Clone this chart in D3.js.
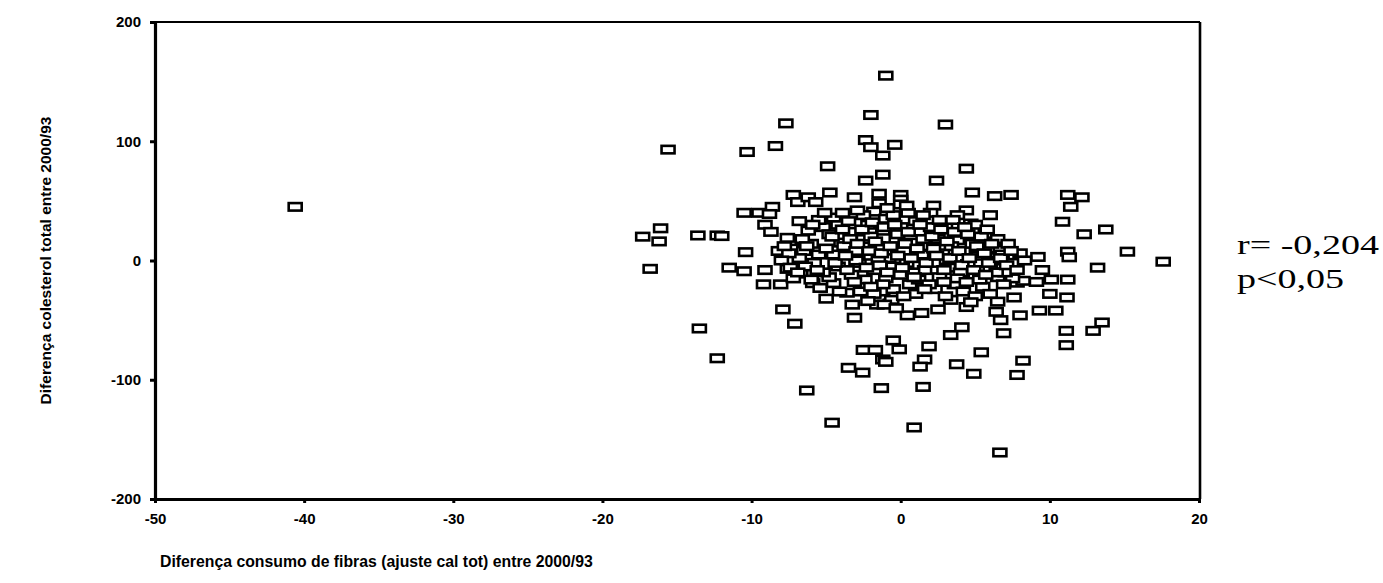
<!DOCTYPE html>
<html>
<head>
<meta charset="utf-8">
<script src="https://cdn.jsdelivr.net/npm/d3@7/dist/d3.min.js"></script>
<style>
  html, body { margin: 0; padding: 0; background: #fff; }
  svg { display: block; }
</style>
</head>
<body>
<svg id="chart" width="1383" height="583"></svg>
<script>
// ---- Data ----
const xTicks = [-50, -40, -30, -20, -10, 0, 10, 20];
const yTicks = [-200, -100, 0, 100, 200];

// Diferença consumo de fibras (x) and Diferença colesterol total (y)
const fibraDiff = [
  -1.0, -2.0, -7.7, -15.6, -10.3, -8.4, -2.35, -2.0, -1.2, -0.4,
  -4.9, -2.35, -1.2, -7.2, -6.9, -6.2, -5.7, -4.75, -3.1, -1.45,
  -1.45, -1.8, 0.0, 0.0, 0.0, -10.5, -9.5, -8.6, -8.8, -9.1,
  -8.7, -7.6, -6.8, -16.1, -17.3, -16.2, -13.6, -12.3, -12.0, -16.8,
  -11.5, -10.5, -10.4, -9.1, -7.6, -6.7, -8.2, -9.2, -8.05, -5.9,
  -5.4, -4.5, -5.0, -3.6, -2.7, -3.25, -3.1, -1.6, -0.7, -1.2,
  -7.9, -7.1, -13.5, -12.3, -6.3, -4.6, -0.5, -2.5, -1.7, -1.2,
  -1.0, -3.5, -2.55, -1.3, 17.6, 13.2, 9.5, 7.2, 10.1, 11.2,
  9.1, 7.8, 8.2, 7.5, 7.6, 10.0, 11.15, 9.3, 10.4, 8.0,
  6.5, 6.4, 6.7, 6.9, 11.1, 11.1, 12.9, 13.5, 4.1, 3.35,
  -0.1, 1.9, 1.6, 1.3, 5.4, 3.75, 4.9, 8.2, 7.8, 1.5,
  0.9, 6.65, 0.45, 1.4, 2.5, 4.4, 3.35, -0.6, -1.1, 3.0,
  4.4, 2.4, 4.8, 6.3, 7.4, 11.2, 12.15, 11.4, 10.85, 12.3,
  13.75, 15.2, 9.2, 11.2, 11.3, 6.0, 4.4, 3.8, 2.2, 4.7,
  4.8, 3.8, 3.8, 6.3, 6.6, -40.6,
  // dense core
  -7.0, -6.5, -6.0, -5.5, -5.8, -6.2, -5.2, -4.8, -4.2, -4.0,
  -4.5, -4.2, -3.8, -3.5, -3.2, -3.0, -2.8, -3.3, -2.5, -2.2,
  -2.0, -1.8, -2.4, -1.5, -1.2, -1.0, -0.8, -0.5, -1.0, -0.3,
  0.0, 0.2, 0.4, 0.0, 0.6, 0.8, 1.0, 1.2, 1.4, 1.6,
  1.8, 2.0, 2.2, 2.5, 2.6, 2.8, 3.0, 3.2, 3.4, 3.6,
  3.8, 4.0, 4.2, 4.5, 4.8, 5.0, 5.2, 5.5, 5.8, 6.0,
  6.2, 6.5, 6.8, 7.0, 7.5, 8.0, 5.4, 5.0, 2.0, 1.5,
  0.5, -0.5, -2.5, -4.5, -5.5, -1.8, -0.5, 1.0, 2.3, 3.0,
  4.2, 5.0, -3.6, -4.8, -5.2, -6.4, -6.8, -7.5, -8.0, -7.2,
  -6.0, -3.0, -1.5, 0.8, 2.2, 4.5, 6.5, 7.2, 3.5, -2.0,
  -0.2, 1.2, -1.2, 3.8, 6.0, 4.7,
  -6.6, -5.9, -5.0, -4.6, -4.4, -3.9, -3.7, -3.4, -3.1, -2.9,
  -2.6, -2.3, -2.1, -1.9, -1.7, -1.4, -1.3, -1.1, -0.9, -0.7,
  -0.4, -0.2, 0.1, 0.3, 0.5, 0.7, 0.9, 1.1, 1.3, 1.5,
  1.7, 1.9, 2.1, 2.4, 2.7, 2.9, 3.1, 3.3, 3.6, 3.9,
  4.1, 4.3, 4.6, 4.9, 5.1, 5.3, 5.6, 5.9, 6.1, 6.4,
  6.7, 7.1, 7.4, 7.8, 8.3, -7.8, -7.4, -6.9, -6.3, -5.6,
  -5.1, -3.9, -2.9, -0.9, 0.4, 2.6, 5.8, -4.1, -2.0, 0.2,
  1.6, 2.9, 4.4, 5.7, 6.9, -0.3, -2.2
];
const colDiff = [
  155, 122, 115, 93, 91, 96, 101, 95, 88, 97,
  79, 67, 72, 55, 49, 53, 49, 57, 53, 56,
  48, 41, 55, 51, 47, 40, 40, 45, 39, 30,
  24, 19, 33, 27, 20, 16, 21, 21, 20.5, -7,
  -6, -9, 7, -8, -7, -11, 8, -20, -20, -19,
  -23, -19, -32, -27, -26, -37, -48, -37, -36, -26,
  -41, -53, -57, -82, -109, -136, -67, -75, -75, -83,
  -85, -90, -94, -107, -1, -6, -8, -4, -16, -16,
  -18, -18.6, -17, -15, -31, -28, -31, -42, -42, -46,
  -34.5, -43, -50, -61, -59, -71, -59, -52, -56, -62.5,
  -74.5, -72, -83, -89, -77, -87, -95, -84, -96, -106,
  -140, -161, -46, -44, -41, -39, -33, -33, -37, 114,
  77, 67, 57, 54, 55, 55, 53, 45, 32.5, 22,
  26, 7.4, 3, 7.4, 2.7, 38, 42, 38, 46, 31,
  25.6, 23, 17, 16, 9, 45,
  // dense core
  10, 8, 14, 5, -2, 25, 28, 22, 30, 15,
  5, -5, 12, 33, 24, 8, -2, -12, 18, 30,
  4, -8, -16, 12, 25, 35, 2, -5, -15, 18,
  28, 8, -2, -12, -20, 15, 33, 24, 5, -8,
  12, 28, -2, 18, -14, 6, 30, -6, 12, -20,
  2, -10, 8, -3, 14, -12, 4, -22, 10, -6,
  0, -14, 5, -10, -2, 6, 20, 30, 40, 38,
  40, 38, 38, 36, 34, -28, -24, -28, -24, -30,
  -26, -30, -8, -14, -10, -5, 2, 6, 0, -15,
  -16, 0, 0, -10, 10, 22, 18, 14, 34, 20,
  22, -16, -20, -15, -28, -35,
  18, 30, 10, 20, -2, 26, 4, 18, -18, 14,
  26, -6, 8, 32, 16, -4, 6, 28, -10, 12,
  30, 4, -6, 14, 24, 2, -14, 10, 30, 18,
  -2, -20, 20, 4, 26, -8, 16, 2, 24, 8,
  -4, 28, 2, -8, 12, -16, 6, -2, 14, -10,
  2, -4, 8, -8, 0, 12, -6, -10, 12, -8,
  40, 40, 42, 44, 46, 34, 26, -26, -22, -30,
  -24, -18, -18, -12, -20, -40, -34
];

const rText = "r= -0,204";
const pText = "p<0,05";
const xTitle = "Diferença consumo de fibras  (ajuste cal tot) entre 2000/93";
const yTitle = "Diferença colesterol total entre 2000/93";

(function () {
  const svg = d3.select("#chart");
  const pl = 155, pr = 1199, pt = 22, pb = 499;
  const sans = "'Liberation Sans', Arial, sans-serif";
  const serif = "'Liberation Serif', 'Times New Roman', serif";

  const x = d3.scaleLinear().domain([-50, 20]).range([pl, pr]);
  const y = d3.scaleLinear().domain([-200, 200]).range([pb, pt]);

  const points = fibraDiff.map((v, i) => ({ x: v, y: colDiff[i] }));

  // frame (top and right)
  svg.append("line").attr("x1", pl).attr("x2", pr + 1).attr("y1", pt).attr("y2", pt)
    .attr("stroke", "#000").attr("stroke-width", 2.2);
  svg.append("line").attr("x1", pr + 1).attr("x2", pr + 1).attr("y1", pt).attr("y2", pb)
    .attr("stroke", "#000").attr("stroke-width", 2.6);

  // points
  svg.append("g").selectAll("rect").data(points).enter().append("rect")
    .attr("x", d => x(d.x) - 6.5)
    .attr("y", d => y(d.y) - 3.75)
    .attr("width", 13)
    .attr("height", 7.5)
    .attr("fill", "#fff")
    .attr("stroke", "#000")
    .attr("stroke-width", 2.6);

  // axes
  const fmt = d => String(d);
  const xAxis = svg.append("g").attr("transform", `translate(0,${pb})`)
    .call(d3.axisBottom(x).tickValues(xTicks).tickFormat(fmt).tickSize(4).tickPadding(10).tickSizeOuter(0));
  const yAxis = svg.append("g").attr("transform", `translate(${pl},0)`)
    .call(d3.axisLeft(y).tickValues(yTicks).tickFormat(fmt).tickSize(5).tickPadding(9).tickSizeOuter(0));

  [xAxis, yAxis].forEach(g => {
    g.select(".domain").attr("stroke", "#000").attr("stroke-width", 3.2);
    g.selectAll(".tick line").attr("stroke", "#000").attr("stroke-width", 3);
    g.selectAll(".tick text")
      .attr("fill", "#000")
      .style("font-family", sans)
      .style("font-weight", "bold")
      .style("font-size", "15px");
  });

  // axis titles
  svg.append("text")
    .attr("x", 160).attr("y", 567)
    .style("font-family", sans)
    .style("font-weight", "bold").style("font-size", "15.8px")
    .text(xTitle);

  svg.append("text")
    .attr("transform", `translate(51,${(pt + pb) / 2}) rotate(-90)`)
    .attr("text-anchor", "middle")
    .style("font-family", sans)
    .style("font-weight", "bold").style("font-size", "15.5px")
    .text(yTitle);

  // statistics annotation
  svg.append("text").attr("x", 1237).attr("y", 254)
    .attr("textLength", 142).attr("lengthAdjust", "spacingAndGlyphs")
    .style("font-family", serif)
    .style("font-size", "28px").text(rText);
  svg.append("text").attr("x", 1237).attr("y", 288)
    .attr("textLength", 107).attr("lengthAdjust", "spacingAndGlyphs")
    .style("font-family", serif)
    .style("font-size", "28px").text(pText);
})();
</script>
</body>
</html>
